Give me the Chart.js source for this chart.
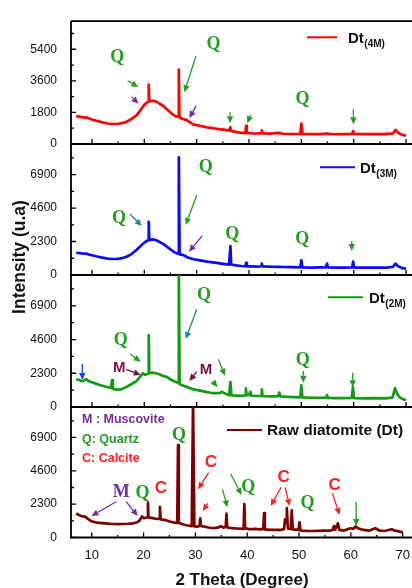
<!DOCTYPE html>
<html>
<head>
<meta charset="utf-8">
<script src="https://cdn.jsdelivr.net/npm/chart.js@4.4.1/dist/chart.umd.min.js"></script>
<style>
  html, body { margin: 0; padding: 0; background: #fff; overflow: hidden; }
  #wrap { position: relative; width: 412px; height: 588px; overflow: hidden; background: #fff; }
  #wrap canvas { position: absolute; left: 0; top: 0; }
</style>
</head>
<body>
<div id="wrap">
  <canvas id="p4m" width="420" height="588"></canvas>
  <canvas id="p3m" width="420" height="588"></canvas>
  <canvas id="p2m" width="420" height="588"></canvas>
  <canvas id="praw" width="420" height="588"></canvas>
</div>
<script>
// ---- XRD patterns: 2-theta (degree) and intensity (counts) ----
const theta4M = [7.0,7.5,8.0,8.5,8.9,9.3,10,11,12,13,14,15,16,16.6,17.5,18.5,19.2,19.8,20.4,20.75,20.85,20.95,21.5,21.9,22.5,23.0,23.6,24.3,25.0,25.5,26.0,26.5,26.6,26.7,27.2,28.1,29.3,30.6,32,33.8,35,36.2,36.45,36.6,37.5,38.3,39.3,39.45,39.6,40.5,41.5,42.3,42.45,42.6,44,45.7,46.5,48,49.8,50.0,50.2,52,53.5,54.9,56,58,59.7,59.9,60.1,62,64,66,67.5,68.0,68.5,69.3,70];
const counts4M = [1590,1560,1530,1500,1520,1470,1400,1310,1230,1170,1140,1150,1210,1270,1420,1630,1900,2170,2350,2400,3390,2420,2470,2460,2380,2280,2170,1980,1800,1670,1580,1540,4240,1530,1440,1360,1120,1040,950,870,820,760,960,750,690,650,620,1030,630,610,600,620,780,610,590,630,585,570,570,1160,570,560,565,590,555,560,570,740,570,565,570,560,610,800,640,520,480];

const theta3M = [7.0,7.5,8.0,8.5,8.9,9.3,10,11,12,13,14,15,16,16.6,17.5,18.5,19.2,19.8,20.4,20.75,20.85,20.95,21.5,22.0,22.5,23.0,23.6,24.3,25.0,25.9,26.45,26.6,26.75,27.5,28.3,29.4,30.65,32,33.8,35,36.2,36.45,36.6,37.5,38.5,39.3,39.45,39.6,40.5,41.5,42.3,42.45,42.6,44,45.7,46.5,48,49.8,50.0,50.2,52,53.5,54.7,54.9,55.1,56.5,58,59.7,59.9,60.1,62,64,66,67.5,68.0,68.5,69.3,70];
const counts3M = [1530,1510,1490,1460,1470,1420,1360,1270,1190,1130,1100,1110,1180,1250,1420,1720,1950,2160,2330,2380,3650,2400,2450,2420,2350,2250,2140,1950,1760,1530,1470,8090,1420,1370,1200,1080,1010,920,830,770,710,1990,720,660,620,600,830,600,590,580,600,790,590,570,560,550,540,520,1010,520,510,520,530,780,520,500,510,520,920,510,500,510,500,560,780,600,470,430];

const theta2M = [7.0,7.5,8.0,8.3,8.6,8.9,9.3,10,11,11.5,12.5,13.6,13.85,14.0,14.7,15.5,16.6,17.5,18.5,19.2,19.7,20.2,20.6,20.75,20.85,20.95,21.5,22.2,23.0,23.6,24.3,25.0,25.9,26.45,26.6,26.75,27.2,28.0,29.4,30.65,32,33.2,34.5,34.8,35.2,36.2,36.45,36.65,37.5,38.5,39.25,39.4,39.55,40.05,40.2,40.35,41.5,42.3,42.45,42.6,44,45.6,45.8,46.0,47.5,49.8,50.0,50.2,52,53.5,54.7,54.9,55.1,56.5,58,59.65,59.85,60.05,62,64,66,67.4,67.9,68.3,68.8,69.5,70];
const counts2M = [1880,1860,1760,1790,1830,1900,1780,1690,1560,1500,1400,1300,1840,1240,1180,1200,1370,1550,1770,2050,2300,2190,2260,2280,4910,2320,2340,2300,2220,2110,2050,1880,1720,1650,8950,1560,1480,1390,1200,1120,1010,940,950,1040,960,800,1700,790,780,760,790,1270,830,820,1020,780,750,760,1210,750,720,740,980,720,690,660,1480,650,630,620,630,810,620,600,610,620,1350,610,590,600,590,640,1280,900,650,520,480];

const thetaRaw = [7.0,7.5,8.0,8.7,9.2,9.95,11,12,13,14,15,16,17,18,18.8,19.3,19.7,20.1,20.6,20.75,20.85,20.95,21.5,22.2,23.0,23.15,23.3,24.2,25.0,26.0,26.5,26.65,26.8,27.5,28.5,29.3,29.55,29.8,30.3,30.8,30.95,31.1,31.6,32.5,33.5,34.5,34.9,35.4,35.85,36.0,36.15,37,38,39.3,39.45,39.6,40.5,41.5,42.5,43.1,43.25,43.4,44.5,45.5,46.5,47.1,47.3,47.5,47.65,47.85,48.4,48.6,48.8,49.9,50.1,50.3,51.5,53,54.5,56,56.5,56.75,57.0,57.5,57.8,58.7,59.9,60.5,60.9,61.5,62.5,63.5,64.7,65.5,66.5,67.9,68.5,69.3,70];
const countsRaw = [1670,1560,1470,1440,1300,1120,1020,990,960,930,920,930,950,980,1050,1200,1450,1330,1380,1400,2400,1390,1350,1300,1280,2120,1250,1200,1100,1030,1000,6380,1020,910,830,790,9400,760,745,800,1320,780,760,690,640,700,790,680,720,1640,700,640,620,600,2310,650,570,590,560,600,1690,560,520,520,530,580,1250,1000,2030,620,600,1870,560,520,1050,480,460,450,470,480,520,790,540,980,520,480,640,600,760,620,520,470,640,480,450,570,470,420,360];

// axis ticks
const thetaTicks = [10,15,20,25,30,35,40,45,50,55,60,65,70];
const thetaLabels = [10,20,30,40,50,60,70];

// phase markers: [text, 2theta, intensity, colour]
const GREEN = '#1f9e1f', PURPLE = '#7a2aa0', RED = '#ff1f1f', TEAL = '#1a8c8c', MAROON = '#7a1048', BLUE = '#1f3fff';
const tags4M = [['Q',14.85,4950,GREEN],['Q',33.2,5690,GREEN],['Q',50.2,2560,GREEN]];
const arrows4M = [[16.83,3606,18.86,3251,GREEN],[17.6,2689,18.86,2296,PURPLE],[29.88,5022,27.65,2954,GREEN],[29.88,2158,28.6,1485,PURPLE],[36.38,1803,36.38,1183,GREEN],[40.33,1660,39.68,1183,GREEN],[59.94,1978,59.94,1130,GREEN]];
const tags3M = [['Q',15.17,3895,GREEN],['Q',31.74,7399,GREEN],['Q',36.82,2817,GREEN],['Q',50.19,2453,GREEN]];
const arrows3M = [[17.27,4191,19.51,3366,TEAL],[30.02,5496,27.91,3435,GREEN],[31.09,2700,28.54,1601,PURPLE],[59.63,2336,59.63,1649,GREEN]];
const tags2M = [['Q',15.5,4568,GREEN],['M',15.23,2639,MAROON],['Q',31.41,7636,GREEN],['M',31.79,2523,MAROON],['Q',50.27,3204,GREEN]];
const arrows2M = [[8.16,2932,8.16,1841,BLUE],[17.27,3614,19.32,3089,GREEN],[16.51,2570,19.32,2182,MAROON],[30.02,6661,27.91,4636,TEAL],[30.02,2407,28.6,1773,MAROON],[34.14,3252,35.42,2134,GREEN],[33.07,1773,33.95,1343,GREEN],[50.38,2454,50.38,1657,GREEN],[59.82,2339,59.82,1343,GREEN]];
const tagsRaw = [['M',15.69,3090,PURPLE],['Q',19.81,3048,GREEN],['C',23.33,3393,RED],['Q',26.83,7069,GREEN],['C',33.0,5159,RED],['Q',40.2,3462,GREEN],['C',47.02,4152,RED],['Q',51.66,2359,GREEN],['C',56.88,3621,RED]];
const arrowsRaw = [[14.73,2469,9.95,1483,PURPLE],[16.64,2469,18.86,1483,PURPLE],[32.56,4469,30.51,3324,RED],[32.42,2359,31.41,1828,RED],[35.23,3324,36.19,2083,GREEN],[36.82,4380,38.92,2931,GREEN],[46.56,3462,44.54,2173,RED],[47.33,3462,48.17,2173,RED],[56.44,3048,57.83,1552,RED],[61.03,2469,61.03,793,GREEN]];

const SANS = "'Liberation Sans', Arial, Helvetica, sans-serif";
const SERIF = "'Liberation Serif', 'Times New Roman', serif";

const isMajor = (v, step) => Math.abs(Math.round(v) % step) < 1;

function drawArrow(ctx, x1, y1, x2, y2, color) {
  const ang = Math.atan2(y2 - y1, x2 - x1);
  const head = 7, hw = 3.2;
  const bx = x2 - head * Math.cos(ang), by = y2 - head * Math.sin(ang);
  ctx.strokeStyle = color; ctx.fillStyle = color; ctx.lineWidth = 1.3;
  ctx.beginPath(); ctx.moveTo(x1, y1); ctx.lineTo(bx, by); ctx.stroke();
  ctx.beginPath();
  ctx.moveTo(x2, y2);
  ctx.lineTo(bx + hw * Math.sin(ang), by - hw * Math.cos(ang));
  ctx.lineTo(bx - hw * Math.sin(ang), by + hw * Math.cos(ang));
  ctx.closePath(); ctx.fill();
}

// axis box with inward ticks
const framePlugin = {
  id: 'frame',
  afterDatasetsDraw(chart, args, opts) {
    const { ctx, chartArea: a, scales: { x, y } } = chart;
    ctx.save();
    ctx.strokeStyle = '#000';
    ctx.lineWidth = 1.8;
    ctx.beginPath();
    ctx.moveTo(a.left, a.top); ctx.lineTo(a.left, a.bottom); ctx.lineTo(a.right + 2, a.bottom);
    if (opts.topLine) { ctx.moveTo(a.left, a.top); ctx.lineTo(a.right + 2, a.top); }
    ctx.stroke();
    ctx.lineWidth = 1.3;
    ctx.beginPath();
    x.ticks.forEach(t => {
      const px = x.getPixelForValue(t.value);
      const len = isMajor(t.value, 10) ? 5 : 2.5;
      ctx.moveTo(px, a.bottom); ctx.lineTo(px, a.bottom - len);
    });
    y.ticks.forEach(t => {
      const py = y.getPixelForValue(t.value);
      const len = isMajor(t.value, opts.major) ? 5 : 3;
      ctx.moveTo(a.left, py); ctx.lineTo(a.left + len, py);
    });
    ctx.stroke();
    ctx.restore();
  }
};

// per-panel legend entry
const keyPlugin = {
  id: 'panelKey',
  afterDraw(chart, args, o) {
    const ctx = chart.ctx;
    const ds = chart.data.datasets[0];
    ctx.save();
    ctx.strokeStyle = ds.borderColor; ctx.lineWidth = 2;
    ctx.beginPath(); ctx.moveTo(o.x1, o.y); ctx.lineTo(o.x2, o.y); ctx.stroke();
    ctx.fillStyle = '#111';
    ctx.textAlign = 'left';
    if (o.sub) {
      ctx.textBaseline = 'alphabetic';
      ctx.font = 'bold 15px ' + SANS;
      ctx.fillText(o.main, o.tx, o.y + 5.4);
      const w = ctx.measureText(o.main).width;
      ctx.font = 'bold 10px ' + SANS;
      ctx.fillText(o.sub, o.tx + w + 0.5, o.y + 9.3);
    } else {
      ctx.textBaseline = 'middle';
      ctx.font = 'bold 15.5px ' + SANS;
      ctx.fillText(o.main, o.tx, o.y + 0.5);
    }
    ctx.restore();
  }
};

// phase letters and arrows, placed in data coordinates
const marksPlugin = {
  id: 'marks',
  afterDraw(chart, args, o) {
    const { ctx, scales: { x, y } } = chart;
    ctx.save();
    (o.arrows || []).forEach(([a1, b1, a2, b2, c]) => {
      drawArrow(ctx, x.getPixelForValue(a1), y.getPixelForValue(b1), x.getPixelForValue(a2), y.getPixelForValue(b2), c);
    });
    ctx.textAlign = 'center'; ctx.textBaseline = 'middle';
    (o.tags || []).forEach(([t, a, b, c]) => {
      ctx.fillStyle = c;
      if (t === 'Q') ctx.font = 'bold 18px ' + SERIF;
      else if (t === 'M' && c === PURPLE) ctx.font = 'bold 18px ' + SERIF;
      else if (t === 'M') ctx.font = 'bold 15px ' + SANS;
      else ctx.font = 'bold 17px ' + SANS;
      ctx.fillText(t, x.getPixelForValue(a), y.getPixelForValue(b));
    });
    if (o.key) {
      const a = chart.chartArea;
      ctx.textAlign = 'left';
      ctx.font = 'bold 12.5px ' + SANS;
      o.key.forEach(([t, dy, c]) => { ctx.fillStyle = c; ctx.fillText(t, a.left + 11, a.top + dy); });
    }
    if (o.yTitle) {
      ctx.translate(20, 257);
      ctx.rotate(-Math.PI / 2);
      ctx.fillStyle = '#111';
      ctx.textAlign = 'center';
      ctx.font = 'bold 17.5px ' + SANS;
      ctx.fillText(o.yTitle, 0, 0);
    }
    ctx.restore();
  }
};

function makePanel(id, p) {
  return new Chart(document.getElementById(id), {
    type: 'line',
    data: {
      datasets: [{
        label: p.label,
        data: p.theta.map((t, i) => ({ x: t, y: p.counts[i] })),
        borderColor: p.color,
        borderWidth: 2.7,
        borderJoinStyle: 'round',
        pointRadius: 0,
        tension: 0,
        fill: false
      }]
    },
    options: {
      responsive: false,
      animation: false,
      devicePixelRatio: 1,
      events: [],
      layout: { padding: { top: p.top, bottom: p.bottomPad, left: 0, right: 3.5 } },
      plugins: {
        legend: { display: false },
        tooltip: { enabled: false },
        frame: { topLine: !!p.topLine, major: p.major },
        panelKey: p.key,
        marks: { tags: p.tags, arrows: p.arrows, key: p.legendKey, yTitle: p.yTitle }
      },
      scales: {
        x: {
          type: 'linear', min: 6, max: 72,
          afterBuildTicks: s => { s.ticks = thetaTicks.map(v => ({ value: v })); },
          afterFit: s => { s.height = p.xHeight; },
          grid: { display: false, drawTicks: false },
          border: { display: false },
          ticks: {
            display: !!p.showX, autoSkip: false, maxRotation: 0, padding: 10,
            color: '#111', font: { family: SANS, size: 13 },
            callback: v => thetaLabels.includes(Math.round(v)) ? String(Math.round(v)) : ''
          },
          title: {
            display: !!p.showX, text: '2 Theta (Degree)', color: '#111',
            font: { family: SANS, size: 17, weight: 'bold', lineHeight: 1 },
            padding: { top: 0, bottom: -1 }
          }
        },
        y: {
          min: 0, max: p.yMax,
          afterBuildTicks: s => {
            const vals = [];
            for (let v = 0; v < p.yMax; v += p.major / 2) vals.push({ value: v });
            s.ticks = vals;
          },
          afterFit: s => { s.width = 71; },
          grid: { display: false, drawTicks: false },
          border: { display: false },
          ticks: {
            autoSkip: false, padding: 14,
            color: '#111', font: { family: SANS, size: 12 },
            callback: v => (isMajor(v, p.major) ? String(Math.round(v)) : '')
          }
        }
      }
    },
    plugins: [framePlugin, keyPlugin, marksPlugin]
  });
}

makePanel('p4m', {
  label: 'Dt(4M)', theta: theta4M, counts: counts4M, color: '#ff0000',
  top: 12, bottomPad: 588 - 144, xHeight: 0, yMax: 7000, major: 1800, topLine: true,
  key: { x1: 307, x2: 337, y: 37.3, tx: 348, main: 'Dt', sub: '(4M)' },
  tags: tags4M, arrows: arrows4M
});
makePanel('p3m', {
  label: 'Dt(3M)', theta: theta3M, counts: counts3M, color: '#0a0aff',
  top: 144, bottomPad: 588 - 275, xHeight: 0, yMax: 9000, major: 2300,
  key: { x1: 320, x2: 355, y: 167.3, tx: 360, main: 'Dt', sub: '(3M)' },
  tags: tags3M, arrows: arrows3M
});
makePanel('p2m', {
  label: 'Dt(2M)', theta: theta2M, counts: counts2M, color: '#139a13',
  top: 275, bottomPad: 588 - 407, xHeight: 0, yMax: 9000, major: 2300,
  key: { x1: 328, x2: 363, y: 297.3, tx: 369, main: 'Dt', sub: '(2M)' },
  tags: tags2M, arrows: arrows2M
});
makePanel('praw', {
  label: 'Raw diatomite (Dt)', theta: thetaRaw, counts: countsRaw, color: '#7b0000',
  top: 407, bottomPad: 0, xHeight: 50.5, yMax: 9000, major: 2300, showX: true,
  key: { x1: 227, x2: 262, y: 430, tx: 267, main: 'Raw diatomite (Dt)' },
  tags: tagsRaw, arrows: arrowsRaw,
  legendKey: [['M : Muscovite', 13, PURPLE], ['Q: Quartz', 32.3, GREEN], ['C: Calcite', 51.3, RED]],
  yTitle: 'Intensity (u.a)'
});
</script>
</body>
</html>
